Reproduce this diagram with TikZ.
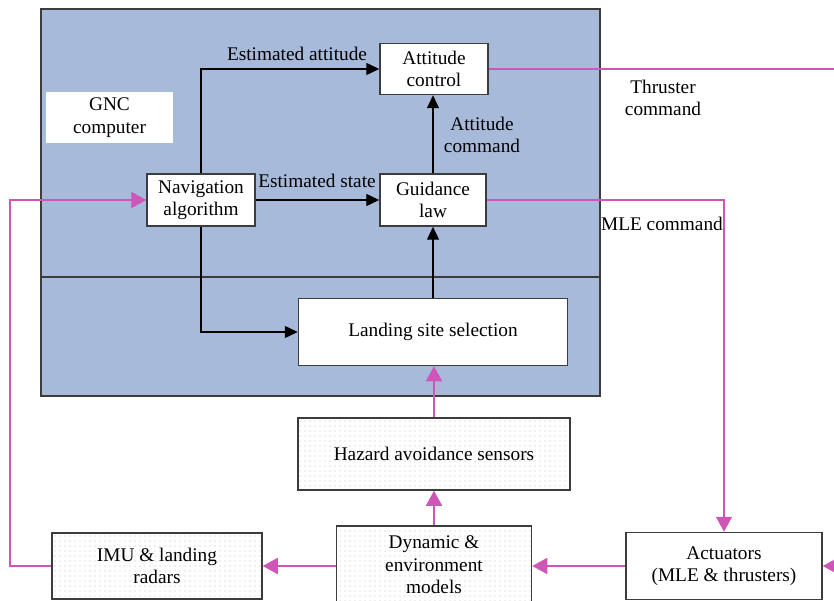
\documentclass[tikz,border=0pt]{standalone}
\usepackage{fontspec}
\setmainfont{Liberation Serif}
\usetikzlibrary{arrows.meta,patterns.meta}
\definecolor{bluebg}{RGB}{168,186,217}
\definecolor{mag}{RGB}{206,86,184}
\definecolor{edgec}{RGB}{60,60,60}
\newcommand{\diagfont}{\fontsize{19.3}{22.5}\selectfont}
\tikzset{
  box/.style={draw=edgec, line width=1.5pt, fill=white, align=center, inner sep=2pt, font=\diagfont},
  dotbox/.style={draw=edgec, line width=1.5pt, align=center, inner sep=2pt, font=\diagfont,
     preaction={fill=white}, pattern={Dots[distance=5pt,radius=0.65pt]}, pattern color=gray!50},
  lbl/.style={align=center, font=\diagfont, inner sep=0pt},
  blk/.style={-{Triangle[length=13pt,width=12pt]}, line width=1.4pt, black},
  magarr/.style={-{Triangle[length=15pt,width=16pt]}, color=mag, line width=1.8pt},
  magl/.style={color=mag, line width=1.8pt}
}
\begin{document}
\begin{tikzpicture}[x=1pt,y=-1pt]
\useasboundingbox (0,0) rectangle (834,601);
\clip (0,0) rectangle (834,601);
% GNC computer area
\fill[bluebg] (41,9) rectangle (600,396);
\draw[edgec, line width=1.5pt] (41,9) rectangle (600,396);
\draw[edgec, line width=1.5pt] (41,277) -- (600,277);
\node[fill=white, minimum width=127pt, minimum height=51pt, lbl] (gnc) at (109.5,117.5) {GNC\\computer};
% boxes
\node[box, minimum width=108pt, minimum height=51pt] (att) at (434,69) {Attitude\\control};
\node[box, minimum width=108pt, minimum height=52pt] (nav) at (201,200) {Navigation\\algorithm};
\node[box, minimum width=106pt, minimum height=52pt] (gui) at (433,200) {Guidance\\law};
\node[box, minimum width=269pt, minimum height=67pt] (lss) at (433,332) {Landing site selection};
\node[dotbox, minimum width=272pt, minimum height=72pt] (has) at (434,454) {Hazard avoidance sensors};
\node[dotbox, minimum width=195pt, minimum height=78pt] (dyn) at (434,565) {Dynamic \&\\environment\\models};
\node[dotbox, minimum width=210pt, minimum height=66pt] (imu) at (157,566) {IMU \& landing\\radars};
\node[box, minimum width=196pt, minimum height=67pt] (act) at (724,566) {Actuators\\(MLE \& thrusters)};
% labels
\node[lbl] (lea) at (297,54) {Estimated attitude};
\node[lbl] (les) at (317,181) {Estimated state};
\node[lbl] (lac) at (482,135) {Attitude\\command};
\node[lbl] (ltc) at (663,98) {Thruster\\command};
\node[lbl] (lmc) at (662,224) {MLE command};
% black connectors
\draw[blk] (nav.north) |- (att.west);
\draw[blk] (nav.east) -- (gui.west);
\draw[blk] (nav.south) |- (lss.west);
\draw[blk] (lss.north) -- (lss.north |- gui.south);
\draw[blk] (gui.north) -- (gui.north |- att.south);
% magenta connectors
\coordinate (thr) at (845,69);
\draw[magl] (att.east) -- (thr);
\coordinate (mlec) at (724,200);
\draw[magarr] (gui.east) -- (mlec) -- (act.north);
\draw[magarr] (has.north) -- (has.north |- lss.south);
\draw[magarr] (dyn.north) -- (dyn.north |- has.south);
\draw[magarr] (act.west) -- (act.west -| dyn.east);
\draw[magarr] (dyn.west |- imu.east) -- (imu.east);
\coordinate (fb) at (10,566);
\draw[magarr] (imu.west) -- (fb) |- (nav.west);
\coordinate (rin) at (852,566);
\draw[magarr] (rin) -- (act.east);
\end{tikzpicture}
\end{document}
